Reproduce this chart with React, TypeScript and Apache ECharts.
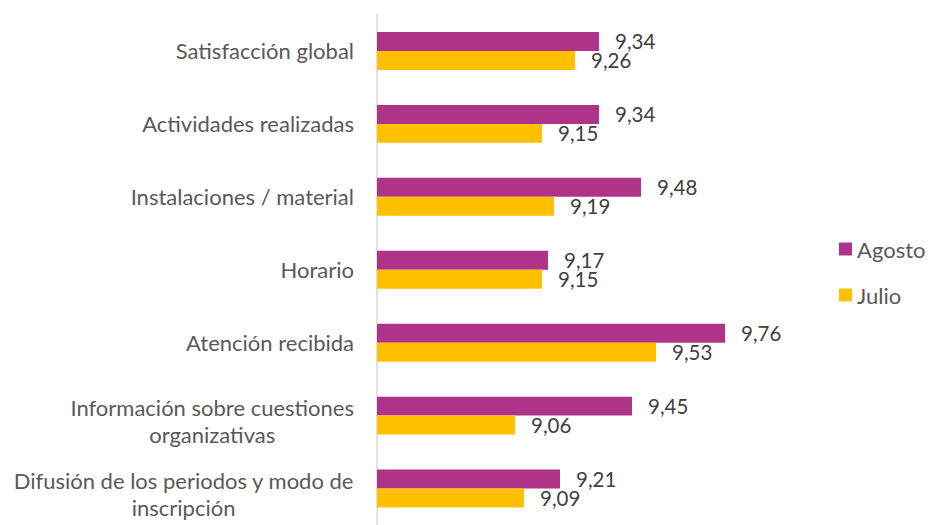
import React, { useEffect, useRef } from "react";
import * as echarts from "echarts";

const categories = [
  "Satisfacción global",
  "Actividades realizadas",
  "Instalaciones / material",
  "Horario",
  "Atención recibida",
  "Información sobre cuestiones\norganizativas",
  "Difusión de los periodos y modo de\ninscripción",
];
const agosto = [9.34, 9.34, 9.48, 9.17, 9.76, 9.45, 9.21];
const julio = [9.26, 9.15, 9.19, 9.15, 9.53, 9.06, 9.09];
const seriesNames = ["Agosto", "Julio"];

const FONT = "Lato, 'Open Sans', sans-serif";

export default function App() {
  const ref = useRef<HTMLDivElement>(null);
  useEffect(() => {
    if (!ref.current) return;
    const chart = echarts.init(ref.current, undefined, { renderer: "svg" });
    const fmt = (p: any) => String(p.value.toFixed(2)).replace(".", ",");
    const labelStyle = {
      show: true,
      position: "right" as const,
      distance: 16,
      fontSize: 20.5,
      lineHeight: 18,
      color: "#404040",
      fontFamily: FONT,
      formatter: fmt,
    };
    chart.setOption({
      animation: false,
      textStyle: { fontFamily: FONT },
      grid: { left: 377, top: 14.5, height: 517.5, width: 420, containLabel: false },
      legend: {
        orient: "vertical",
        left: 834,
        top: 233,
        icon: "rect",
        itemWidth: 13,
        itemHeight: 13,
        itemGap: 24,
        data: seriesNames,
        textStyle: { fontSize: 22, color: "#595959", fontFamily: FONT },
      },
      xAxis: {
        type: "value",
        min: 8.6,
        max: 10,
        show: false,
        splitLine: { show: false },
      },
      yAxis: {
        type: "category",
        inverse: true,
        data: categories.map((c) =>
          c.includes("\n") ? { value: c, textStyle: { padding: [10, 0, 0, 0] } } : c
        ),
        axisLine: { show: true, lineStyle: { color: "#d9d9d9", width: 1.5 } },
        axisTick: { show: false },
        axisLabel: {
          margin: 23,
          fontSize: 22,
          color: "#595959",
          fontFamily: FONT,
          lineHeight: 27,
          formatter: (v: string) =>
            v
              .split("\n")
              .map((l) => `{c|${l}}`)
              .join("\n"),
          rich: {
            c: { align: "center", fontSize: 22, color: "#595959", fontFamily: FONT, lineHeight: 27 },
          },
        },
      },
      series: [
        {
          name: seriesNames[0],
          type: "bar",
          data: agosto,
          itemStyle: { color: "#B0338A" },
          barGap: "0%",
          barCategoryGap: "48%",
          label: labelStyle,
        },
        {
          name: seriesNames[1],
          type: "bar",
          data: julio,
          itemStyle: { color: "#FFC000" },
          barGap: "0%",
          barCategoryGap: "48%",
          label: labelStyle,
        },
      ],
    });
    return () => chart.dispose();
  }, []);
  return <div ref={ref} style={{ width: 930, height: 525, position: "absolute", left: 0, top: 0 }} />;
}
